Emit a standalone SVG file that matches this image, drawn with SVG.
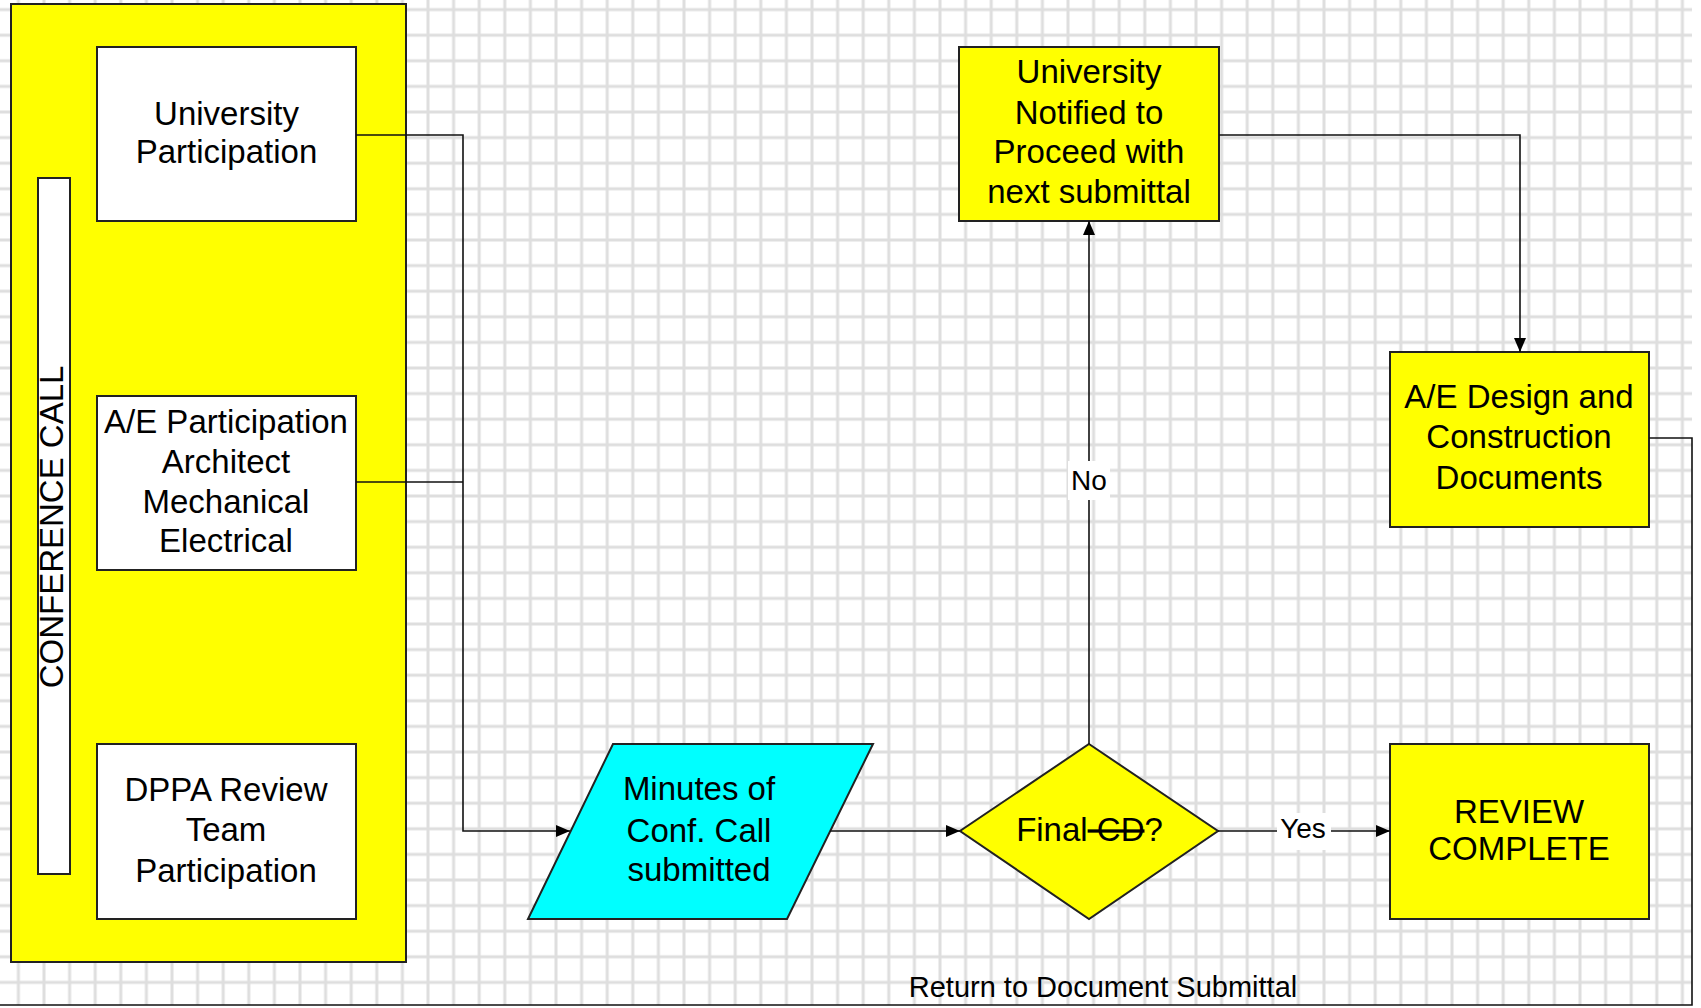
<svg xmlns="http://www.w3.org/2000/svg" width="1701" height="1008" viewBox="0 0 1701 1008">
<style>
.box{stroke:#222;stroke-width:2}
.conn{fill:none;stroke:#111;stroke-width:1.6}
text{font-family:"Liberation Sans",Arial,sans-serif;font-size:33px;fill:#000;text-anchor:middle}
.lbl{font-size:28px}
.yel{fill:#FFFF00}
.wht{fill:#FFFFFF}
.cyn{fill:#00FFFF}
</style>
<defs>
<pattern id="grid" patternUnits="userSpaceOnUse" x="5.6" y="-3.2" width="25.6" height="25.6">
<path d="M12.8,0 V25.6 M0,12.8 H25.6" stroke="#dedede" stroke-width="3" fill="none"/>
</pattern>
<marker id="arr" markerUnits="userSpaceOnUse" markerWidth="14" markerHeight="12" refX="14" refY="6" orient="auto">
<path d="M0,0 L14,6 L0,12 z" fill="#000"/>
</marker>
</defs>
<rect x="0" y="0" width="1701" height="1008" fill="#fff"/>
<rect x="0" y="0" width="1692" height="1005" fill="url(#grid)"/>

<g id="conference-call">
<rect class="box yel" x="11" y="4" width="395" height="958"/>
<rect class="box wht" x="38" y="178" width="32" height="696"/>
<text transform="translate(63,527) rotate(-90)">CONFERENCE CALL</text>
</g>

<g id="university-participation">
<rect class="box wht" x="97" y="47" width="259" height="174"/>
<text x="226.5" y="125">University</text>
<text x="226.5" y="163">Participation</text>
</g>

<g id="ae-participation">
<rect class="box wht" x="97" y="396" width="259" height="174"/>
<text x="226" y="433">A/E Participation</text>
<text x="226" y="473">Architect</text>
<text x="226" y="513">Mechanical</text>
<text x="226" y="552">Electrical</text>
</g>

<g id="dppa-participation">
<rect class="box wht" x="97" y="744" width="259" height="175"/>
<text x="226" y="801">DPPA Review</text>
<text x="226" y="841">Team</text>
<text x="226" y="882">Participation</text>
</g>

<g id="minutes">
<polygon class="box cyn" points="613,744 873,744 787,919 528,919"/>
<text x="699" y="800">Minutes of</text>
<text x="699" y="842">Conf. Call</text>
<text x="699" y="881">submitted</text>
</g>

<g id="final-cd">
<polygon class="box yel" points="1089,744 1218,831 1089,919 960,831"/>
<text x="1089.5" y="841">Final<tspan text-decoration="line-through"> CD</tspan>?</text>
</g>

<g id="university-notified">
<rect class="box yel" x="959" y="47" width="260" height="174"/>
<text x="1089" y="83">University</text>
<text x="1089" y="124">Notified to</text>
<text x="1089" y="163">Proceed with</text>
<text x="1089" y="203">next submittal</text>
</g>

<g id="ae-design">
<rect class="box yel" x="1390" y="352" width="259" height="175"/>
<text x="1519" y="408">A/E Design and</text>
<text x="1519" y="448">Construction</text>
<text x="1519" y="489">Documents</text>
</g>

<g id="review-complete">
<rect class="box yel" x="1390" y="744" width="259" height="175"/>
<text x="1519" y="823">REVIEW</text>
<text x="1519" y="860">COMPLETE</text>
</g>

<g id="connectors">
<path class="conn" d="M356,135 H463 V831 H570" marker-end="url(#arr)"/>
<path class="conn" d="M356,482 H463"/>
<path class="conn" d="M830,831 H960" marker-end="url(#arr)"/>
<path class="conn" d="M1089,744 V221" marker-end="url(#arr)"/>
<path class="conn" d="M1218,831 H1390" marker-end="url(#arr)"/>
<path class="conn" d="M1219,135 H1520 V352" marker-end="url(#arr)"/>
<path class="conn" d="M1649,438 H1692 V1005 H0"/>
<rect x="1068" y="461" width="42" height="39" fill="#fff"/>
<text class="lbl" x="1089" y="490">No</text>
<rect x="1277" y="813" width="54" height="37" fill="#fff"/>
<text class="lbl" x="1303" y="838">Yes</text>
<text x="1103" y="997" style="font-size:29px">Return to Document Submittal</text>
</g>
</svg>
